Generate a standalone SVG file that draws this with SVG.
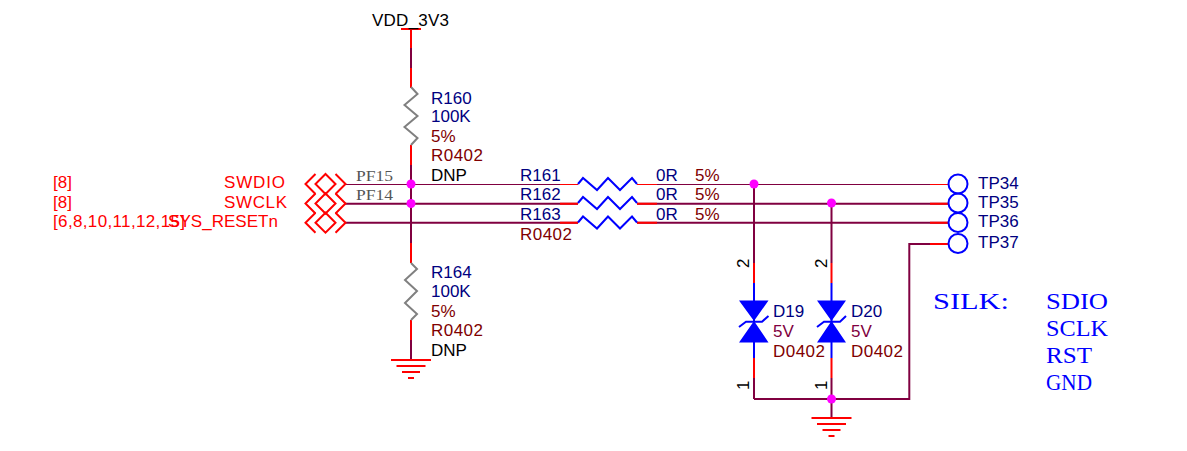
<svg xmlns="http://www.w3.org/2000/svg" width="1187" height="451" viewBox="0 0 1187 451">
<style>
text{font-family:"Liberation Sans",Arial,sans-serif;font-size:17px}
.b{fill:#000080}.m{fill:#800000}.k{fill:#000}.r{fill:#ff0000}.p{fill:#800040}
text.s{font-family:"Liberation Serif",serif;font-size:14px;fill:#555}
text.silk{font-family:"Liberation Serif",serif;font-size:23.500px;fill:#0000ff}
.w{fill:none;stroke:#800040;stroke-width:2}
.t{fill:none;stroke:#800040;stroke-width:1}
.red{fill:none;stroke:#ff0000;stroke-width:2}
.redt{fill:none;stroke:#ff0000;stroke-width:1}
.res{fill:none;stroke:#808080;stroke-width:2}
.resb{fill:none;stroke:#0000ff;stroke-width:2}
.j{fill:#ff00ff}
.d{fill:#0000ff;stroke:none}
.dl{fill:none;stroke:#0000ff;stroke-width:2}
.tp{fill:none;stroke:#0000ff;stroke-width:2}
.port{fill:none;stroke:#ff0000;stroke-width:2}
</style>
<defs>
<path id="gnd" class="red" d="M-20 0H20M-14.500 6H14.500M-9 12H9M-3 18H3"/>
<path id="port" class="port" d="M10-10L0 0L10 10M20-10L10 0L20 10L30 0ZM30-10L40 0L30 10"/>
</defs>
<g id="connectors">
<path class="t" d="M345 184.500H578M637 184.500H948"/>
<path class="w" d="M345 203.700H578M637 203.700H948"/>
<path class="w" d="M345 222.700H578M637 222.700H948"/>
<path class="w" d="M411 48V68M411 165V223M411 223V243M411 340V360"/>
<path class="w" d="M754 184V263M831.500 203V263M754 378V399M831.500 378V418M754 399H909.300V244H948"/>
<path class="redt" d="M560 184.500H578M637 184.500H657M930 184.500H948"/>
<path class="red" d="M560 203.700H578M637 203.700H657M930 203.700H948M560 222.700H578M637 222.700H657M930 222.700H948M930 244H948"/>
<path class="red" d="M411 29V48M411 68V88M411 145V165M411 243V263M411 320V340"/>
<path class="red" d="M754 263V283M831.500 263V283M754 358V378M831.500 358V378"/>
</g>
<g id="VDD"><path class="red" d="M401 29H421"/><text x="372" y="26" class="k" textLength="77">VDD_3V3</text></g>
<g id="R160"><path class="res" d="M411 87L417.500 94L404.500 105L417.500 116L404.500 127L417.500 138L411 145"/>
<text x="431" y="104" class="b">R160</text><text x="431" y="122" class="b">100K</text><text x="431" y="142" class="m">5%</text><text x="431" y="161" class="m" textLength="52">R0402</text><text x="431" y="181" class="k">DNP</text></g>
<g id="R164"><path class="res" d="M411 263L417 269L405 280L417 291L405 303L417 314L411 320"/>
<text x="431" y="278" class="b">R164</text><text x="431" y="297" class="b">100K</text><text x="431" y="317" class="m">5%</text><text x="431" y="336" class="m" textLength="52">R0402</text><text x="431" y="356" class="k">DNP</text></g>
<g id="GND1"><use href="#gnd" x="411" y="360"/></g>
<g id="R161"><path class="resb" d="M578 184L583 178L597 190L608 178L620 190L632 178L637 184"/>
<text x="520" y="181" class="b">R161</text><text x="656" y="181" class="b">0R</text><text x="695" y="181" class="m">5%</text></g>
<g id="R162"><path class="resb" d="M578 203L583 197L597 209L608 197L620 209L632 197L637 203"/>
<text x="520" y="200" class="b">R162</text><text x="656" y="200" class="b">0R</text><text x="695" y="200" class="m">5%</text></g>
<g id="R163"><path class="resb" d="M578 222.500L583 216.500L597 228.500L608 216.500L620 228.500L632 216.500L637 222.500"/>
<text x="520" y="220" class="b">R163</text><text x="656" y="220" class="b">0R</text><text x="695" y="220" class="m">5%</text><text x="520" y="240" class="m" textLength="52">R0402</text></g>
<g id="D19"><path class="dl" d="M754 283V358"/><path class="d" d="M739 300.500H768.500L754 321ZM739 342.500H768.500L754 321Z"/><path class="dl" d="M739 327L746 321.700H762L768.500 316"/>
<text x="773" y="317" class="b">D19</text><text x="773" y="337" class="p">5V</text><text x="773" y="357" class="m" textLength="52">D0402</text>
<text transform="translate(749 268) rotate(-90)" class="k">2</text><text transform="translate(749 390) rotate(-90)" class="k">1</text></g>
<g id="D20"><path class="dl" d="M831.500 283V358"/><path class="d" d="M817 300.500H846L831.500 321ZM817 342.500H846L831.500 321Z"/><path class="dl" d="M817 327L824 321.700H840L846 316"/>
<text x="851" y="317" class="b">D20</text><text x="851" y="337" class="p">5V</text><text x="851" y="357" class="m" textLength="52">D0402</text>
<text transform="translate(827 268) rotate(-90)" class="k">2</text><text transform="translate(827 390) rotate(-90)" class="k">1</text></g>
<g id="GND2"><use href="#gnd" x="831.500" y="418"/></g>
<g id="TP34"><circle class="tp" cx="958" cy="184" r="9.500"/><text x="978" y="189" class="b">TP34</text></g>
<g id="TP35"><circle class="tp" cx="958" cy="203" r="9.500"/><text x="978" y="208" class="b">TP35</text></g>
<g id="TP36"><circle class="tp" cx="958" cy="222.500" r="9.500"/><text x="978" y="227" class="b">TP36</text></g>
<g id="TP37"><circle class="tp" cx="958" cy="243.500" r="9.500"/><text x="978" y="248" class="b">TP37</text></g>
<g id="SWDIO"><use href="#port" x="305.500" y="184"/><text x="53" y="188" class="r">[8]</text><text x="224" y="188" class="r" textLength="61">SWDIO</text><text x="356" y="181" class="s" textLength="37" lengthAdjust="spacingAndGlyphs">PF15</text></g>
<g id="SWCLK"><use href="#port" x="305.500" y="203.500"/><text x="53" y="208" class="r">[8]</text><text x="224" y="208" class="r" textLength="63">SWCLK</text><text x="356" y="200" class="s" textLength="37" lengthAdjust="spacingAndGlyphs">PF14</text></g>
<g id="SYS_RESETn"><use href="#port" x="305.500" y="222.700"/><text x="53" y="227" class="r" textLength="132">[6,8,10,11,12,15]</text><text x="168" y="227" class="r" textLength="110">SYS_RESETn</text></g>
<g id="junctions"><circle class="j" cx="411" cy="184" r="4.500"/><circle class="j" cx="411" cy="203.500" r="4.500"/><circle class="j" cx="754" cy="184" r="4.500"/><circle class="j" cx="831.500" cy="203" r="4.500"/><circle class="j" cx="831.500" cy="399" r="4.500"/></g>
<g id="silk"><text x="933" y="309" class="silk" textLength="76" lengthAdjust="spacingAndGlyphs">SILK:</text><text x="1046" y="309" class="silk" textLength="62" lengthAdjust="spacingAndGlyphs">SDIO</text><text x="1046" y="336" class="silk" textLength="62" lengthAdjust="spacingAndGlyphs">SCLK</text><text x="1046" y="363" class="silk" textLength="46" lengthAdjust="spacingAndGlyphs">RST</text><text x="1046" y="390" class="silk" textLength="46" lengthAdjust="spacingAndGlyphs">GND</text></g>
</svg>
